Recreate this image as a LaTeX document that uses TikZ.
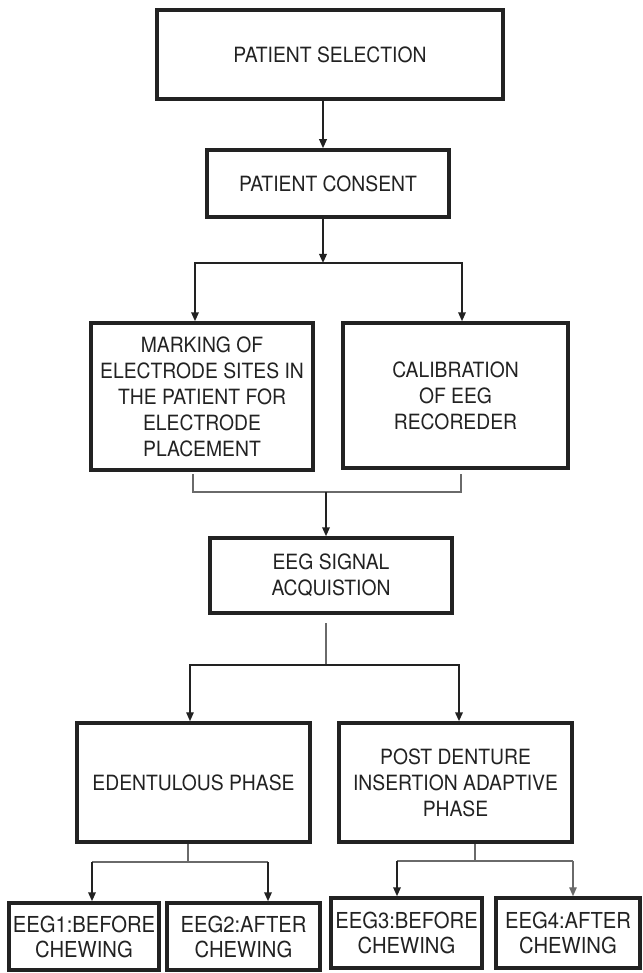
\documentclass[tikz,border=0pt]{standalone}
\usepackage{fontspec}
\setmainfont{TeX Gyre Heros}[FakeStretch=0.92]
\usetikzlibrary{arrows.meta}
\definecolor{ink}{HTML}{222222}
\definecolor{thin}{HTML}{6A6A6A}
\tikzset{
  box/.style={draw=ink, line width=3.5pt, fill=white, align=center, inner sep=0pt,
    text=ink, font=\fontsize{21}{26}\selectfont},
  smallbox/.style={box, font=\fontsize{22}{25}\selectfont},
  arr/.style={draw=ink, line width=1.8pt, -{Triangle[length=9pt,width=7.5pt]}},
  garr/.style={draw=thin, line width=1.4pt, -{Triangle[length=9pt,width=7.5pt]}},
  ln/.style={draw=ink, line width=1.8pt},
  gln/.style={draw=thin, line width=1.1pt},
}
\begin{document}
\begin{tikzpicture}[x=1pt,y=-1pt]
\useasboundingbox (0,0) rectangle (642,973);
% boxes
\node[box, minimum width=346pt, minimum height=89pt] (ps) at (330,54.5) {PATIENT SELECTION};
\node[box, minimum width=242pt, minimum height=67pt] (pc) at (328,183.5) {PATIENT CONSENT};
\node[box, minimum width=222pt, minimum height=147pt] (mk) at (202,396.5) {MARKING OF\\ELECTRODE SITES IN\\THE PATIENT FOR\\ELECTRODE\\PLACEMENT};
\node[box, minimum width=225pt, minimum height=145pt] (cal) at (455.5,395.5) {CALIBRATION\\OF EEG\\RECOREDER};
\node[box, minimum width=242pt, minimum height=75pt] (sig) at (331,575.5) {EEG SIGNAL\\ACQUISTION};
\node[box, minimum width=233pt, minimum height=119pt] (ed) at (193.5,782.5) {EDENTULOUS PHASE};
\node[box, minimum width=233pt, minimum height=119pt] (pd) at (455.5,782.5) {POST DENTURE\\INSERTION ADAPTIVE\\PHASE};
\node[smallbox, minimum width=150pt, minimum height=67pt] (e1) at (84,936.5) {EEG1:BEFORE\\CHEWING};
\node[smallbox, minimum width=153pt, minimum height=67pt] (e2) at (243.5,936.5) {EEG2:AFTER\\CHEWING};
\node[smallbox, minimum width=151pt, minimum height=70pt] (e3) at (406.5,933) {EEG3:BEFORE\\CHEWING};
\node[smallbox, minimum width=144pt, minimum height=70pt] (e4) at (568,933) {EEG4:AFTER\\CHEWING};
% junction coordinates
\coordinate (j1) at (323,263);
\coordinate (bl) at (193,474);
\coordinate (br) at (461,474);
\coordinate (j2) at (326,492);
\coordinate (s0) at (326,623);
\coordinate (j3) at (326,665);
\coordinate (j4) at (188,862);
\coordinate (j5) at (475,861);
% connectors
\draw[arr] (ps.south -| j1) -- (pc.north -| j1);
\draw[arr] (pc.south -| j1) -- (j1);
\draw[arr] (j1) -| (mk.north -| 195,0);
\draw[arr] (j1) -| (cal.north -| 462,0);
\draw[gln] (bl) |- (j2) -| (br);
\draw[arr] (j2) -- (sig.north -| j2);
\draw[gln] (s0) -- (j3);
\draw[garr, draw=ink, line width=1.4pt] (j3) -| (ed.north -| 190,0);
\draw[arr, line width=2pt] (j3) -| (pd.north -| 459,0);
\draw[gln] (ed.south -| j4) -- (j4);
\draw[gln] (j4) -- (92,862);
\draw[gln] (j4) -- (268,862);
\draw[arr] (92,862) -- (e1.north -| 92,0);
\draw[arr] (268,862) -- (e2.north -| 268,0);
\draw[gln] (pd.south -| j5) -- (j5);
\draw[gln] (397,861) -- (573,861);
\draw[arr] (397,861) -- (e3.north -| 397,0);
\draw[garr] (573,861) -- (e4.north -| 573,0);
\end{tikzpicture}
\end{document}
